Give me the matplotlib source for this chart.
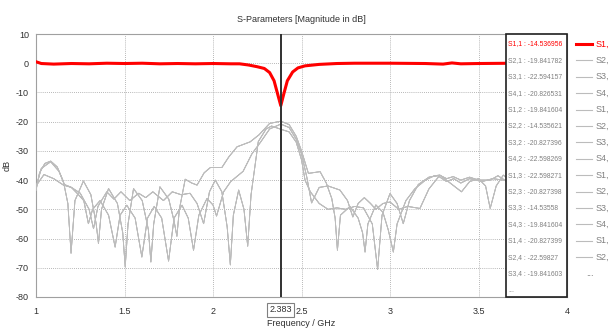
import matplotlib.pyplot as plt
from matplotlib.lines import Line2D

plt.rcParams['font.family'] = ['Liberation Sans', 'DejaVu Sans']
plt.rcParams['axes.unicode_minus'] = False

# marker frequency
f_mark = 2.383

# S1,1 (return loss, red) - also used for S2,2 and S3,3
s11_f = [1.0, 1.03, 1.1, 1.2, 1.3, 1.4, 1.5, 1.6, 1.7, 1.8, 1.9, 2.0, 2.1, 2.15,
         2.2, 2.25, 2.29, 2.32, 2.345, 2.365, 2.383, 2.40, 2.42, 2.45, 2.48, 2.52,
         2.6, 2.7, 2.8, 3.0, 3.2, 3.3, 3.35, 3.4, 3.5, 3.7, 3.9, 4.0]
s11_db = [0.5, -0.1, -0.3, -0.1, -0.2, 0.0, -0.1, 0.0, -0.2, -0.1, -0.2, -0.1, -0.2, -0.2,
          -0.6, -1.2, -1.8, -3.2, -6.0, -10.5, -14.54, -10.5, -6.0, -3.0, -1.6, -0.9,
          -0.4, -0.1, 0.0, 0.0, -0.1, -0.3, 0.1, -0.2, -0.1, 0.0, -0.5, -1.5]

# S2,1 family (peak -19.84 at marker)
s21_f = [1.0, 1.02, 1.05, 1.083, 1.12, 1.155, 1.18, 1.198, 1.22, 1.268, 1.31, 1.34, 1.353,
         1.37, 1.41, 1.46, 1.49, 1.504, 1.52, 1.551, 1.60, 1.635, 1.649, 1.665, 1.70,
         1.75, 1.78, 1.796, 1.81, 1.843, 1.88, 1.91, 1.95, 1.985, 2.05, 2.09, 2.136,
         2.21, 2.26, 2.32, 2.383, 2.43, 2.47, 2.50, 2.539, 2.605, 2.64, 2.671, 2.69,
         2.703, 2.72, 2.774, 2.82, 2.845, 2.859, 2.875, 2.92, 2.96, 2.99, 3.019, 3.04,
         3.09, 3.14, 3.20, 3.25, 3.28, 3.32, 3.357, 3.40, 3.45, 3.50, 3.566, 3.61,
         3.66, 3.75, 3.85, 4.0]
s21_db = [-43.5, -37.5, -34.3, -33.5, -35.5, -40.5, -48, -65, -47, -40.3, -45, -55, -61.7,
          -50, -42.9, -48, -58, -69.7, -55, -42.9, -47, -57, -68, -55, -42.3,
          -46.5, -54, -59.2, -50, -39.7, -41, -41.7, -37.5, -35.7, -35.7, -32, -28.6,
          -26.9, -24.5, -20.6, -19.84, -21, -25, -30, -37.7, -37.1, -41, -46.3, -53,
          -64, -52, -49, -53, -58, -64.6, -55, -48.5, -51, -57, -64.6, -55,
          -47, -43, -40, -38.5, -38.3, -39.5, -38.8, -40, -39, -40, -40, -38.5,
          -40.5, -42, -40.5, -41]

# S4,1 family (peak -20.83 at marker)
s41_f = [1.0, 1.045, 1.10, 1.155, 1.20, 1.24, 1.27, 1.296, 1.32, 1.362, 1.41, 1.447,
         1.475, 1.513, 1.56, 1.598, 1.63, 1.668, 1.71, 1.749, 1.78, 1.825, 1.86, 1.89,
         1.92, 1.966, 2.0, 2.02, 2.06, 2.10, 2.17, 2.22, 2.27, 2.32, 2.383, 2.43, 2.47,
         2.50, 2.53, 2.557, 2.60, 2.65, 2.717, 2.76, 2.79, 2.82, 2.855, 2.89, 2.92,
         2.96, 3.0, 3.05, 3.1, 3.169, 3.22, 3.282, 3.34, 3.404, 3.45, 3.50, 3.54,
         3.566, 3.60, 3.64, 3.68, 3.75, 3.85, 4.0]
s41_db = [-42, -38.1, -39.5, -41.7, -42.5, -45, -47, -54.9, -50, -47, -52, -62.9,
          -52, -48.6, -53, -66.3, -53, -49, -53, -67.7, -53, -48.6, -53, -64,
          -52, -46.3, -48.5, -52.3, -44, -40.5, -37, -31, -26.9, -22.5, -20.83, -22, -26,
          -31, -39, -47.8, -42.5, -42, -43.4, -47, -52.6, -48, -46, -48, -50,
          -48, -47.5, -50, -49, -49.7, -43, -38.3, -41, -44, -40.5, -39.5, -42,
          -49.7, -42, -38.3, -40, -44, -41, -43]

# S3,1 family (peak -22.59 at marker)
s31_f = [1.0, 1.03, 1.083, 1.13, 1.16, 1.20, 1.25, 1.30, 1.325, 1.35, 1.40, 1.44,
         1.48, 1.53, 1.58, 1.62, 1.66, 1.72, 1.77, 1.82, 1.87, 1.91, 1.947, 1.98,
         2.013, 2.05, 2.08, 2.098, 2.115, 2.145, 2.175, 2.196, 2.215, 2.256, 2.30,
         2.331, 2.383, 2.43, 2.47, 2.50, 2.52, 2.55, 2.60, 2.65, 2.70, 2.75, 2.80,
         2.85, 2.90, 2.93, 2.955, 3.0, 3.04, 3.075, 3.11, 3.16, 3.22, 3.27, 3.32,
         3.36, 3.40, 3.45, 3.52, 3.58, 3.64, 3.75, 3.9, 4.0]
s31_db = [-42.5, -36, -33.7, -37, -41.5, -42.5, -44.5, -50, -56.6, -49, -44, -46.5,
          -44, -47, -44.5, -46, -44, -47, -44, -45, -44.5, -48, -54.9, -44,
          -40, -44, -56, -69, -52, -43.4, -50, -62.6, -45, -26.8, -22.5,
          -21.5, -22.59, -23.5, -27, -33, -40, -44, -48, -50, -49.5, -50, -49,
          -49.5, -55, -70.6, -52, -44.6, -48, -54.9, -47, -41.5, -39, -38.5, -40.5,
          -39.5, -41, -39.5, -40.5, -39.5, -40, -40, -41, -40]

# values shown in the marker box
box_names = ['S1,1', 'S2,1', 'S3,1', 'S4,1', 'S1,2', 'S2,2', 'S3,2', 'S4,2',
             'S1,3', 'S2,3', 'S3,3', 'S4,3', 'S1,4', 'S2,4', 'S3,4']
box_vals = ['-14.536956', '-19.841782', '-22.594157', '-20.826531', '-19.841604',
            '-14.535621', '-20.827396', '-22.598269', '-22.598271', '-20.827398',
            '-14.53558', '-19.841604', '-20.827399', '-22.59827', '-19.841603']

# which measured curve each S-parameter follows
curve_of = {'S1,1': 's11', 'S2,1': 's21', 'S3,1': 's31', 'S4,1': 's41',
            'S1,2': 's21', 'S2,2': 's11', 'S3,2': 's41', 'S4,2': 's31',
            'S1,3': 's31', 'S2,3': 's41', 'S3,3': 's11', 'S4,3': 's21',
            'S1,4': 's41', 'S2,4': 's31', 'S3,4': 's21'}
curves = {'s11': (s11_f, s11_db), 's21': (s21_f, s21_db),
          's31': (s31_f, s31_db), 's41': (s41_f, s41_db)}

RED = '#ff0000'
GRAY = '#bcbcbc'
TXT = '#303030'

fig = plt.figure(figsize=(6.08, 3.35), dpi=100)
ax = fig.add_axes([36 / 608, 1 - 297 / 335, 531 / 608, 263 / 335])

for name in box_names[::-1]:
    f, db = curves[curve_of[name]]
    if name == 'S1,1':
        ax.plot(f, db, color=RED, lw=2.2, zorder=4)
    else:
        ax.plot(f, db, color=GRAY, lw=0.6, zorder=3)

ax.axvline(f_mark, color='#303030', lw=1.4, zorder=5)

ax.set_xlim(1, 4)
ax.set_ylim(-80, 10)
ax.set_xticks([1, 1.5, 2, 2.5, 3, 3.5, 4])
ax.set_xticklabels(['1', '1.5', '2', '2.5', '3', '3.5', '4'])
ax.set_yticks(range(-80, 11, 10))
ax.tick_params(length=0, labelsize=6.5, colors=TXT)
ax.tick_params(axis='x', pad=7)
ax.tick_params(axis='y', pad=5)
ax.grid(True, color='#a0a0a0', lw=0.6, linestyle=(0, (1, 1.5)))
for s in ax.spines.values():
    s.set_color('#a0a0a0')
    s.set_linewidth(0.8)

ax.set_title('S-Parameters [Magnitude in dB]', fontsize=6.5, color=TXT, pad=9)
ax.set_xlabel('Frequency / GHz', fontsize=6.5, color=TXT, va='center')
ax.xaxis.set_label_coords(0.5, -(323 - 297) / 263)
ax.set_ylabel('dB', fontsize=6.5, color=TXT)
ax.yaxis.set_label_coords(-24 / 531, 0.5)

# marker frequency label on the x axis
ax.text(f_mark, -(310 - 297) / 263, '2.383', transform=ax.get_xaxis_transform(),
        ha='center', va='center', fontsize=6.5, color=TXT, zorder=6,
        bbox=dict(boxstyle='square,pad=0.25', fc='white', ec='#808080', lw=0.8))

# marker value box
bx0 = 0.885
ax.add_patch(plt.Rectangle((bx0, 0.0), 1 - bx0, 1.0, transform=ax.transAxes,
                           fc='white', ec='#202020', lw=1.2, zorder=7, clip_on=False))
line_h = 16.4 / 263
for i, (n, v) in enumerate(zip(box_names, box_vals)):
    y = 1 - (44 - 34) / 263 - i * line_h
    ax.text(bx0 + 0.004, y, f'{n} : {v}', transform=ax.transAxes, fontsize=4.9,
            color=RED if n == 'S1,1' else '#808080', va='center', ha='left', zorder=8)
ax.text(bx0 + 0.004, 1 - (44 - 34) / 263 - 15 * line_h, '...', transform=ax.transAxes,
        fontsize=5, color='#808080', va='center', ha='left', zorder=8)

# legend to the right of the plot (cut by the figure edge as in the original)
for i, n in enumerate(box_names[:14]):
    yp = 1 - (44 + i * 16.4) / 335
    col, lw = (RED, 2.2) if n == 'S1,1' else (GRAY, 0.8)
    fig.add_artist(Line2D([576 / 608, 592 / 608], [yp, yp], color=col, lw=lw))
    fig.text(596 / 608, yp, n, fontsize=6.5, va='center', ha='left',
             color=RED if n == 'S1,1' else '#808080')
fig.text(586 / 608, 1 - (44 + 14 * 16.4) / 335, '...', fontsize=6.5, va='center',
         ha='left', color='#808080')

fig.savefig('out.png', dpi=100)
